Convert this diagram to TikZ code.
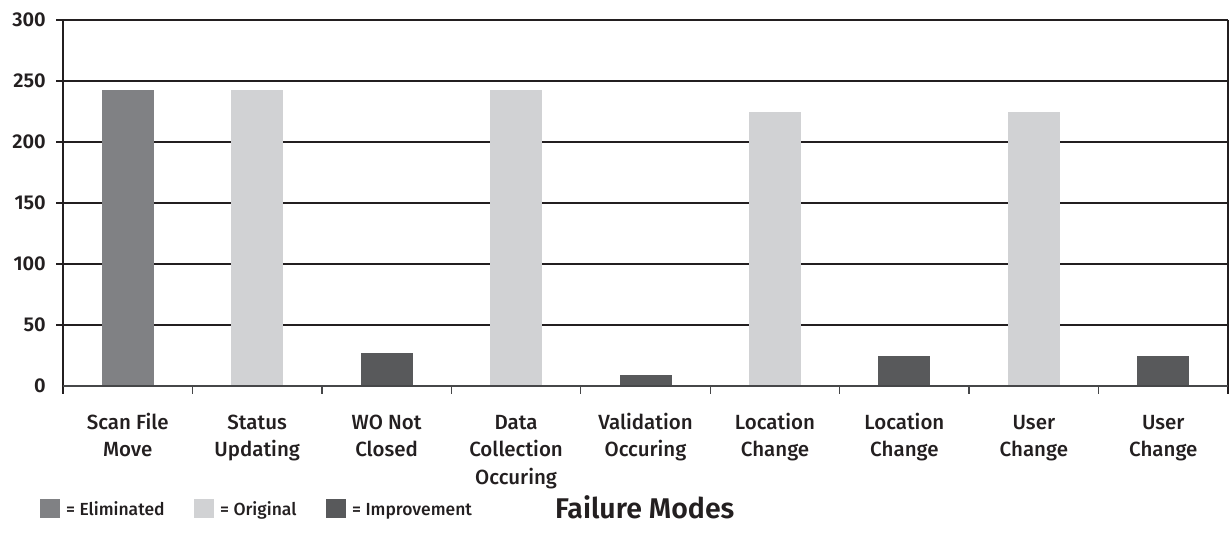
\documentclass[tikz,border=0pt]{standalone}
\usepackage{fontspec}
\setmainfont{Fira Sans}[UprightFont=* Medium, BoldFont=* SemiBold]
\definecolor{elim}{HTML}{808184}
\definecolor{orig}{HTML}{D1D2D4}
\definecolor{impr}{HTML}{58595B}
\definecolor{ink}{HTML}{231F20}
\begin{document}
\begin{tikzpicture}[x=1pt,y=-1pt,
  grid/.style={draw=ink,line width=1.3pt},
  axisline/.style={draw=impr!80!black,line width=1.3pt},
  ytick/.style={anchor=east,font=\fontsize{20}{22}\selectfont\bfseries,text=ink,inner sep=0pt},
  catlabel/.style={anchor=north,align=center,font=\fontsize{20.5}{27.4}\selectfont,text=ink,inner sep=0pt},
  legtext/.style={anchor=base west,font=\fontsize{17.5}{20}\selectfont,text=ink,inner sep=0pt},
  legbox/.style={minimum width=20pt,minimum height=19pt,inner sep=0pt,anchor=west}]
\useasboundingbox (0,0) rectangle (1231,546);
\def\xl{63}\def\xr{1228}\def\yz{386}\def\sc{1.22}
\pgfmathsetmacro{\cw}{(\xr-\xl)/9}
% grid lines
\foreach \v in {50,100,...,300}{
  \draw[grid] (56,{\yz-\v*\sc}) -- (\xr,{\yz-\v*\sc});
  \node[ytick] at (46,{\yz-\v*\sc}) {\v};
}
\node[ytick] at (46,\yz) {0};
% bars
\foreach \i/\val/\col in {0/243/elim,1/243/orig,2/27/impr,3/243/orig,4/9/impr,5/225/orig,6/25/impr,7/225/orig,8/25/impr}{
  \fill[\col] ({\xl+(\i+0.5)*\cw-26},\yz) rectangle ({\xl+(\i+0.5)*\cw+26},{\yz-\val*\sc});
}
% axes
\draw[grid] (\xl,20) -- (\xl,394);
\draw[grid] (\xr,20) -- (\xr,394);
\draw[axisline] (\xl,\yz) -- (\xr,\yz);
\foreach \i in {1,...,8}{
  \draw[axisline] ({\xl+\i*\cw},\yz) -- ({\xl+\i*\cw},394);
}
% category labels
\foreach \i/\t in {0/{Scan File\\Move},1/{Status\\Updating},2/{WO Not\\Closed},3/{Data\\Collection\\Occuring},4/{Validation\\Occuring},5/{Location\\Change},6/{Location\\Change},7/{User\\Change},8/{User\\Change}}{
  \node[catlabel] (c\i) at ({\xl+(\i+0.5)*\cw},410) {\strut\t};
}
% legend
\node[legbox,fill=elim] (l1) at (40,508.5) {};
\node[legtext] (t1) at (66,515) {= Eliminated};
\node[legbox,fill=orig] (l2) at (194,508.5) {};
\node[legtext] (t2) at (220,515) {= Original};
\node[legbox,fill=impr] (l3) at (326,508.5) {};
\node[legtext] (t3) at (352,515) {= Improvement};
\node[anchor=base west,inner sep=0pt,font=\fontsize{28.5}{30}\selectfont\bfseries,text=ink] (title) at (555,518) {Failure Modes};
\end{tikzpicture}
\end{document}
